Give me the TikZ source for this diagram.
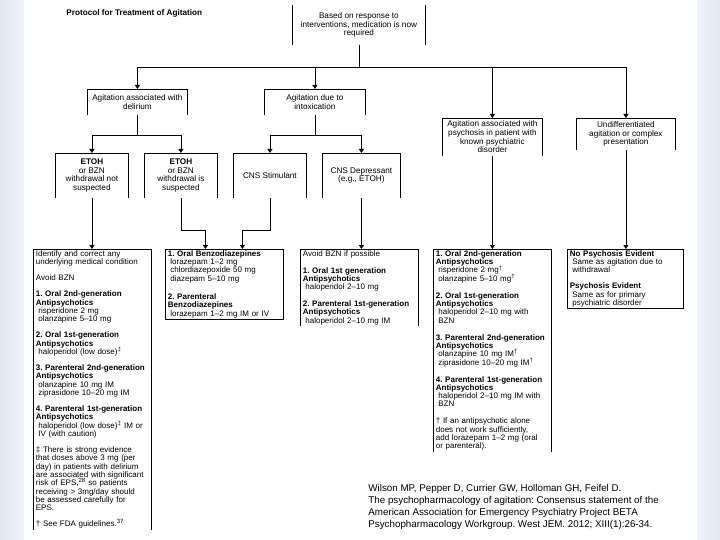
\documentclass[tikz,border=0pt]{standalone}
\usepackage{fontspec}
\setmainfont{Liberation Sans}
\usetikzlibrary{arrows.meta}
\definecolor{stripdark}{RGB}{226,231,240}
\definecolor{striplight}{RGB}{240,243,248}
\newcommand{\drugind}{\hspace*{2.5pt}}
\newcommand{\supmark}[1]{\smash{\textsuperscript{#1}}}
\frenchspacing

\begin{document}
\begin{tikzpicture}[x=1pt,y=-1pt,line width=0.8pt,
  sel/.style={anchor=north west,align=center,inner sep=1pt,font=\fontsize{8.2}{8.6}\selectfont},
  rx/.style={anchor=north west,align=left,text width=113pt,inner xsep=2.5pt,inner ysep=1.2pt,font=\fontsize{8}{8.3}\selectfont},
  arr/.style={-{Triangle[length=4pt,width=5pt]}}]
\useasboundingbox (0,0) rectangle (720,540);
\shade[left color=stripdark,right color=striplight] (0,0) rectangle (24,540);
\shade[left color=striplight,right color=stripdark] (697,0) rectangle (720,540);

\node[anchor=base west,font=\bfseries\fontsize{8.2}{9}\selectfont,inner sep=0pt] (title) at (66,16) {Protocol for Treatment of Agitation};

% first level
\node[sel,minimum width=133pt,minimum height=39pt] (plan) at (292,5) {Based on response to\\interventions, medication is now\\required};
\node[sel,minimum width=100pt,minimum height=25pt] (delir) at (87,89) {Agitation associated with\\delirium};
\node[sel,minimum width=101pt,minimum height=25pt] (intox) at (264,89) {Agitation due to\\intoxication};
\node[sel,minimum width=100pt,minimum height=37pt] (psych) at (442,118) {Agitation associated with\\psychosis in patient with\\known psychiatric\\disorder};
\node[sel,minimum width=99pt,minimum height=31pt] (undiff) at (576,118) {Undifferentiated\\agitation or complex\\presentation};

% second level
\node[sel,minimum width=73pt,minimum height=44pt] (etohno) at (55,153) {\textbf{ETOH}\\or BZN\\withdrawal not\\suspected};
\node[sel,minimum width=73pt,minimum height=44pt] (etohyes) at (144,153) {\textbf{ETOH}\\or BZN\\withdrawal is\\suspected};
\node[sel,minimum width=73pt,minimum height=44pt] (stim) at (233,153) {CNS Stimulant};
\node[sel,minimum width=78pt,minimum height=44pt] (depr) at (322,153) {CNS Depressant\\(e.g., ETOH)};

% treatment
\node[rx] (rxdelir) at (33,249) {Identify and correct any\\
underlying medical condition\\[7.8pt]
Avoid BZN\\[7.8pt]
\textbf{1. Oral 2nd-generation}\\
\textbf{Antipsychotics}\\
\drugind risperidone 2 mg\\
\drugind olanzapine 5--10 mg\\[7.8pt]
\textbf{2. Oral 1st-generation}\\
\textbf{Antipsychotics}\\
\drugind haloperidol (low dose)\supmark{‡}\\[7.8pt]
\textbf{3. Parenteral 2nd-generation}\\
\textbf{Antipsychotics}\\
\drugind olanzapine 10 mg IM\\
\drugind ziprasidone 10--20 mg IM\\[7.8pt]
\textbf{4. Parenteral 1st-generation}\\
\textbf{Antipsychotics}\\
\drugind haloperidol (low dose)\supmark{‡} IM or\\
\drugind IV (with caution)\\[7.8pt]
‡ There is strong evidence\\
that doses above 3 mg (per\\
day) in patients with delirium\\
are associated with significant\\
risk of EPS,\supmark{28} so patients\\
receiving > 3mg/day should\\
be assessed carefully for\\
EPS.\\[7.8pt]
† See FDA guidelines.\supmark{37}};
\node[rx,draw] (rxbzn) at (165,249) {\textbf{1. Oral Benzodiazepines}\\
\drugind lorazepam 1--2 mg\\
\drugind chlordiazepoxide 50 mg\\
\drugind diazepam 5--10 mg\\[10pt]
\textbf{2. Parenteral}\\
\textbf{Benzodiazepines}\\
\drugind lorazepam 1--2 mg IM or IV};
\node[rx] (rxap) at (300,249) {Avoid BZN if possible\\[8.5pt]
\textbf{1. Oral 1st generation}\\
\textbf{Antipsychotics}\\
\drugind haloperidol 2--10 mg\\[8.5pt]
\textbf{2. Parenteral 1st-generation}\\
\textbf{Antipsychotics}\\
\drugind haloperidol 2--10 mg IM};
\node[rx] (rxpsych) at (433,249) {\textbf{1. Oral 2nd-generation}\\
\textbf{Antipsychotics}\\
\drugind risperidone 2 mg\supmark{†}\\
\drugind olanzapine 5--10 mg\supmark{†}\\[8.7pt]
\textbf{2. Oral 1st-generation}\\
\textbf{Antipsychotics}\\
\drugind haloperidol 2--10 mg with\\
\drugind BZN\\[8.7pt]
\textbf{3. Parenteral 2nd-generation}\\
\textbf{Antipsychotics}\\
\drugind olanzapine 10 mg IM\supmark{†}\\
\drugind ziprasidone 10--20 mg IM\supmark{†}\\[8.7pt]
\textbf{4. Parenteral 1st-generation}\\
\textbf{Antipsychotics}\\
\drugind haloperidol 2--10 mg IM with\\
\drugind BZN\\[8.7pt]
† If an antipsychotic alone\\
does not work sufficiently,\\
add lorazepam 1--2 mg (oral\\
or parenteral).};
\node[rx,draw,text width=111pt] (rxundiff) at (567,249) {\textbf{No Psychosis Evident}\\
\drugind Same as agitation due to\\
\drugind withdrawal\\[7.5pt]
\textbf{Psychosis Evident}\\
\drugind Same as for primary\\
\drugind psychiatric disorder};

\node[anchor=north west,align=left,inner sep=0pt,font=\fontsize{9.8}{12}\selectfont] (cite) at (368,484) {Wilson MP, Pepper D, Currier GW, Holloman GH, Feifel D.\\
The psychopharmacology of agitation: Consensus statement of the\\
American Association for Emergency Psychiatry Project BETA\\
Psychopharmacology Workgroup. West JEM. 2012; XIII(1):26-34.};

% outlines, open at the bottom
\draw (plan.south west) -- (plan.north west) (plan.north east) -- (plan.south east);
\foreach \n in {delir,intox,psych,undiff,etohno,etohyes,stim,depr,rxdelir,rxap,rxpsych}
  \draw (\n.south west) |- (\n.north east) -- (\n.south east);

% connectors
\draw (plan.south) -- ++(0,23) coordinate (split);
\foreach \n in {delir,intox,psych,undiff}
  \draw[arr] (split) -| (\n.north);
\foreach \n in {etohno,etohyes}
  \draw[arr] (delir.south) -- ++(0,21) -| (\n.north);
\foreach \n in {stim,depr}
  \draw[arr] (intox.south) -- ++(0,21) -| (\n.north);
\draw[arr] (etohno.south) -- (etohno.south |- rxdelir.north);
\draw[arr] (etohyes.south) -- ++(0,33) -| ([xshift=-19pt]rxbzn.north);
\draw[arr] (stim.south) -- ++(0,33) -| ([xshift=18pt]rxbzn.north);
\draw[arr] (depr.south) -- (depr.south |- rxap.north);
\draw[arr] (psych.south) -- (psych.south |- rxpsych.north);
\draw[arr] (undiff.south) -- (undiff.south |- rxundiff.north);
\end{tikzpicture}
\end{document}
